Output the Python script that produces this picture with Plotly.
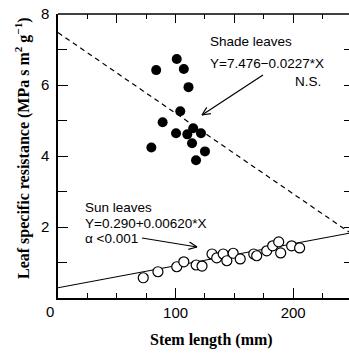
import plotly.graph_objects as go
import math

# Shade leaves (filled)
shade_x = [83.5, 101, 107, 111, 104, 89, 100.4, 110, 115, 121.6, 114, 125, 117.4, 79.4]
shade_y = [6.42, 6.73, 6.45, 5.94, 5.26, 4.95, 4.64, 4.61, 4.78, 4.64, 4.36, 4.13, 3.88, 4.24]

# Sun leaves (open)
sun_x = [72.5, 85, 101, 107, 117.5, 122.5, 131, 135, 140.5, 143.6, 149, 155, 166.5, 169,
         177.5, 182.6, 187.7, 189.4, 198.7, 205.5]
sun_y = [0.57, 0.74, 0.88, 1.02, 0.93, 0.90, 1.24, 1.13, 1.24, 1.05, 1.26, 1.10, 1.24, 1.19,
         1.33, 1.47, 1.58, 1.27, 1.47, 1.41]

# Regression coefficients
shade_a, shade_b = 7.476, -0.0227
sun_a, sun_b = 0.290, 0.00620

x_tickvals = [100, 200]
y_tickvals = [2, 4, 6, 8]

XMAX = 247.5
line_x = [0, XMAX]

fig = go.Figure()
fig.add_trace(go.Scatter(x=line_x, y=[shade_a + shade_b * v for v in line_x], mode="lines",
                         line=dict(color="black", width=1.2, dash="5px,4px"), hoverinfo="skip"))
fig.add_trace(go.Scatter(x=line_x, y=[sun_a + sun_b * v for v in line_x], mode="lines",
                         line=dict(color="black", width=1.1), hoverinfo="skip"))
fig.add_trace(go.Scatter(x=sun_x, y=sun_y, mode="markers",
                         marker=dict(symbol="circle", size=10, color="white",
                                     line=dict(color="black", width=1.2))))
fig.add_trace(go.Scatter(x=shade_x, y=shade_y, mode="markers",
                         marker=dict(symbol="circle", size=10, color="black",
                                     line=dict(color="black", width=0))))
# invisible trace for top/right axes
fig.add_trace(go.Scatter(x=[0], y=[0], xaxis="x2", yaxis="y2", mode="markers",
                         marker=dict(opacity=0), hoverinfo="skip"))

tickfont = dict(family="Liberation Sans, Arial, sans-serif", size=15, color="black")
fig.update_layout(
    width=349, height=356,
    margin=dict(l=58, r=0, t=14, b=58),
    plot_bgcolor="white", paper_bgcolor="white",
    showlegend=False,
    xaxis=dict(range=[0, XMAX], showline=True, linecolor="black", linewidth=1.5,
               ticks="inside", tickvals=x_tickvals, ticklen=10, tickwidth=1.2,
               tickcolor="black", tickfont=tickfont, showgrid=False, zeroline=False,
               minor=dict(tickvals=[25, 50, 75, 125, 150, 175, 225], ticks="inside",
                          ticklen=5, tickwidth=1.1, tickcolor="black")),
    yaxis=dict(range=[0, 8], showline=True, linecolor="black", linewidth=1.5,
               ticks="inside", tickvals=y_tickvals, ticklen=10, tickwidth=1.2,
               tickcolor="black", tickfont=tickfont, showgrid=False, zeroline=False,
               ticklabelstandoff=4,
               minor=dict(tickvals=[1, 3, 5, 7], ticks="inside", ticklen=9,
                          tickwidth=1.1, tickcolor="black")),
    xaxis2=dict(range=[0, XMAX], overlaying="x", side="top", showline=False,
                ticks="inside", tickvals=[50, 100, 150, 200], ticklen=9, tickwidth=1.1,
                tickcolor="black", showticklabels=False, showgrid=False, zeroline=False,
                minor=dict(tickvals=[25, 75, 125, 175, 225], ticks="inside", ticklen=5,
                           tickwidth=1.1, tickcolor="black")),
    yaxis2=dict(range=[0, 8], overlaying="y", side="right", showline=False,
                ticks="inside", tickvals=[1, 2, 3, 4, 5, 6, 7], ticklen=5, tickwidth=1.1,
                tickcolor="black", showticklabels=False, showgrid=False, zeroline=False),
)

# top frame line
fig.add_shape(type="line", xref="paper", yref="paper", x0=0, x1=1, y0=1, y1=1,
              line=dict(color="black", width=1.5))

serif = dict(family="Liberation Serif, Times New Roman, serif", size=16, color="black")
sans = dict(family="Liberation Sans, Arial, sans-serif", size=13.5, color="black")

def px_to_paper_x(px):
    return (px - 58) / 291.0

def px_to_paper_y(py):
    return (298 - py) / 284.0

annos = [
    dict(text="<b>Stem length (mm)</b>", x=px_to_paper_x(211), y=px_to_paper_y(340),
         font=serif, xanchor="center", yanchor="middle"),
    dict(text="<b>Leaf specific resistance (MPa s m<sup>2</sup> g<sup>−1</sup>)</b>",
         x=px_to_paper_x(22), y=px_to_paper_y(148), textangle=-90, font=serif,
         xanchor="center", yanchor="middle"),
    dict(text="0", x=px_to_paper_x(50), y=px_to_paper_y(311), font=tickfont,
         xanchor="center", yanchor="middle"),
    dict(text="Shade leaves", x=px_to_paper_x(208), y=px_to_paper_y(41), font=sans,
         xanchor="left", yanchor="middle"),
    dict(text="Y=7.476−0.0227*X", x=px_to_paper_x(208), y=px_to_paper_y(63), font=sans,
         xanchor="left", yanchor="middle"),
    dict(text="N.S.", x=px_to_paper_x(323), y=px_to_paper_y(81), font=sans,
         xanchor="right", yanchor="middle"),
    dict(text="Sun leaves", x=px_to_paper_x(83), y=px_to_paper_y(207), font=sans,
         xanchor="left", yanchor="middle"),
    dict(text="Y=0.290+0.00620*X", x=px_to_paper_x(83), y=px_to_paper_y(223), font=sans,
         xanchor="left", yanchor="middle"),
    dict(text="α <0.001", x=px_to_paper_x(83), y=px_to_paper_y(239), font=sans,
         xanchor="left", yanchor="middle"),
]
for a in annos:
    fig.add_annotation(xref="paper", yref="paper", showarrow=False, **a)

# arrows with open V heads (pixel endpoints)
def arrow(tx, ty, hx, hy, L=9, ang=25):
    fig.add_shape(type="line", xref="paper", yref="paper",
                  x0=px_to_paper_x(tx), y0=px_to_paper_y(ty),
                  x1=px_to_paper_x(hx), y1=px_to_paper_y(hy),
                  line=dict(color="black", width=1.2))
    d = math.atan2(ty - hy, tx - hx)
    for s in (-1, 1):
        a = d + s * math.radians(ang)
        ex, ey = hx + L * math.cos(a), hy + L * math.sin(a)
        fig.add_shape(type="line", xref="paper", yref="paper",
                      x0=px_to_paper_x(hx), y0=px_to_paper_y(hy),
                      x1=px_to_paper_x(ex), y1=px_to_paper_y(ey),
                      line=dict(color="black", width=1.2))

arrow(263, 75, 202, 115)
arrow(142, 238, 197, 247)

fig.write_html("out.html")
